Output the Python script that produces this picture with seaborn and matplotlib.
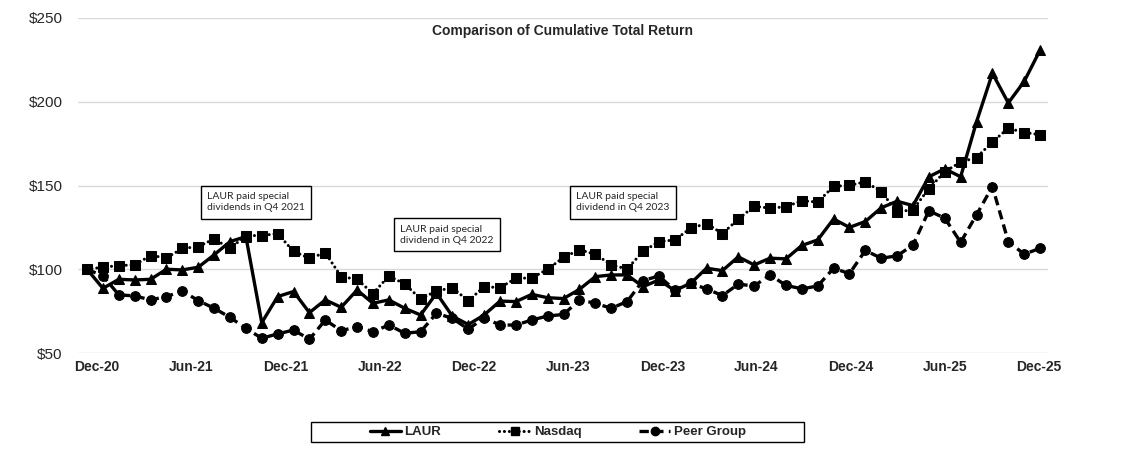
import numpy as np
import pandas as pd
import matplotlib
matplotlib.use("Agg")
import matplotlib.pyplot as plt
from matplotlib.lines import Line2D
from matplotlib.patches import Rectangle
import seaborn as sns

sns.set_theme(style="white")
plt.rcParams["font.family"] = ["Liberation Sans", "DejaVu Sans"]

# valores mensuales Dec-20 .. Dec-25 (61 puntos)
laur = [100, 88.6, 94, 93.6, 94, 100, 99.6, 101.2, 108.6, 116.5, 119.5, 68.1,
        83.7, 86.7, 74.1, 81.7, 77.3, 87.6, 79.7, 81.7, 76.7, 72.7, 85.7, 72,
        67, 72.7, 81, 80.7, 85, 83, 82.5, 88, 95.6, 96.6, 96.6, 89.6,
        93.6, 87.3, 91.6, 100.6, 99.2, 107.4, 102.6, 106.6, 106.2, 114.2, 117.5, 130,
        125, 128.5, 136.7, 140.6, 138, 155.2, 160, 155.2, 188, 217, 199.3, 212.1, 230.8]
nasdaq = [100, 101.2, 102.2, 102.6, 108.2, 106.8, 112.4, 113.5, 118.1, 112.4, 120.1, 120.1,
          121.3, 110.6, 106.6, 109.8, 95.6, 94, 85.5, 96, 91.2, 82.3, 87, 89,
          81.1, 89.6, 89, 94.6, 94.8, 100, 107.1, 111.6, 109, 102.6, 100.2, 110.6,
          116.5, 117.5, 124.5, 127.3, 121.3, 129.9, 137.6, 136.5, 137.3, 140.9, 140.1, 149.5,
          150.1, 152.2, 146.3, 134.3, 135.5, 148.2, 158.2, 164, 166.7, 176, 184.2, 181.6, 180.4]
peer = [100, 96, 84.7, 84.1, 81.7, 83.7, 87, 81.3, 76.7, 71.3, 64.7, 58.8,
        61.4, 63.7, 58.2, 69.7, 63.3, 65.7, 62.7, 66.7, 61.8, 62.7, 73.7, 70.7,
        64.2, 71, 66.7, 66.7, 69.7, 72.1, 73, 81.7, 79.7, 76.7, 80.7, 93.2,
        96, 87.6, 91.6, 88.3, 84.3, 91.1, 90, 96.6, 90.4, 88.3, 90, 100.6,
        97.4, 111.2, 106.6, 108, 114.5, 134.9, 130.5, 116.1, 132.5, 149.4, 116.5, 109, 112.5]

tick_labels = ["Dec-20", "Jun-21", "Dec-21", "Jun-22", "Dec-22", "Jun-23",
               "Dec-23", "Jun-24", "Dec-24", "Jun-25", "Dec-25"]
y_ticks = [50, 100, 150, 200, 250]

notes = ["LAUR paid special\ndividends in Q4 2021",
         "LAUR paid special\ndividend in Q4 2022",
         "LAUR paid special\ndividend in Q4 2023"]
note_pos = [(7.55, 140.0), (19.7, 120.7), (30.8, 140.0)]

df = pd.DataFrame({"mes": range(len(laur)), "LAUR": laur,
                   "Nasdaq": nasdaq, "Peer Group": peer})

W, H = 1122, 463
fig = plt.figure(figsize=(W / 100, H / 100), dpi=100)
ax = fig.add_axes([78 / W, 1 - 353 / H, (1048 - 78) / W, (353 - 18) / H])

estilos = {
    "LAUR": dict(marker="^", ls="-", lw=2.4, cap="butt"),
    "Nasdaq": dict(marker="s", ls=(0, (0.01, 1.6)), lw=2.2, cap="round"),
    "Peer Group": dict(marker="o", ls=(0, (2.8, 1.6)), lw=2.4, cap="butt"),
}
for serie, st in estilos.items():
    sns.lineplot(data=df, x="mes", y=serie, ax=ax, color="black", linewidth=st["lw"],
                 marker=st["marker"], markersize=7, markeredgecolor="black",
                 dashes=False, zorder=3)
    ln = ax.lines[-1]
    ln.set_linestyle(st["ls"])
    ln.set_dash_capstyle(st["cap"])

ax.set_xlim(-0.57, 60.5)
ax.set_ylim(50, 250)
# etiquetas del eje categórico tal como quedan en el original (un poco corridas)
ax.set_xticks(np.linspace(0.63, 59.94, len(tick_labels)))
ax.set_xticklabels(tick_labels, fontsize=10, fontweight="bold")
ax.set_yticks(y_ticks)
ax.set_yticklabels([f"${v}" for v in y_ticks], fontsize=11)
ax.tick_params(axis="y", length=0, pad=11)
ax.tick_params(axis="x", length=0, pad=5)
ax.set_xlabel("")
ax.set_ylabel("")
ax.grid(axis="y", color="#d9d9d9", linewidth=1)
ax.set_axisbelow(True)
for s in ax.spines.values():
    s.set_visible(False)

ax.set_title("Comparison of Cumulative Total Return", fontsize=10,
             fontweight="bold", y=0.925)

for txt, (x, y) in zip(notes, note_pos):
    ax.text(x, y, txt, fontsize=7.5, family=["Lato", "DejaVu Sans"], ha="left", va="center",
            linespacing=1.3,
            bbox=dict(boxstyle="square,pad=0.6", facecolor="white",
                      edgecolor="black", linewidth=1))

# leyenda inferior con marco propio
handles = [Line2D([], [], color="black", linewidth=st["lw"], marker=st["marker"],
                  markersize=6, linestyle=st["ls"], dash_capstyle=st["cap"])
           for st in estilos.values()]
fig.patches.append(Rectangle((311 / W, 1 - 442 / H), 493 / W, 20 / H,
                             transform=fig.transFigure, facecolor="white",
                             edgecolor="black", linewidth=1))
leg = fig.legend(handles, list(estilos.keys()), loc="center", ncol=3,
                 bbox_to_anchor=(558 / W, 1 - 432 / H), frameon=False,
                 prop=dict(size=9.5, weight="bold"), handlelength=2.3,
                 columnspacing=4.4, handletextpad=0.3)

fig.savefig("out.png", dpi=100)
